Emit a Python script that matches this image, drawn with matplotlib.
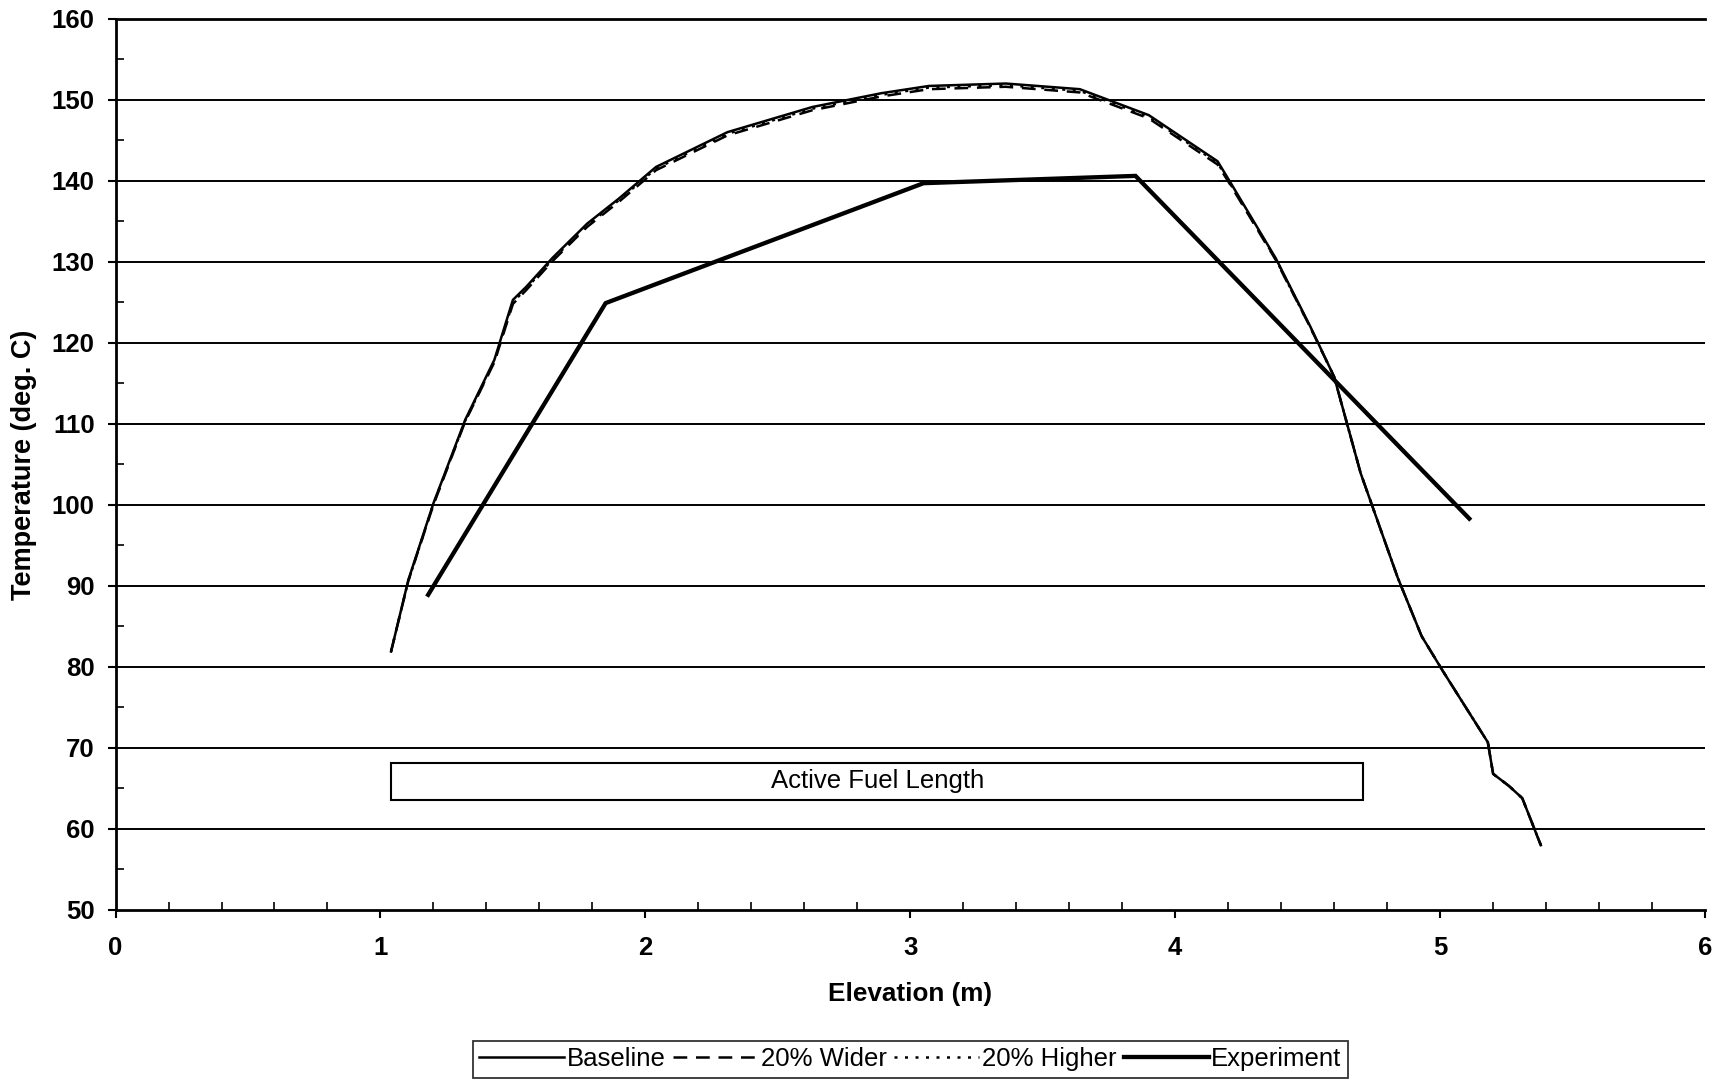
import matplotlib
matplotlib.use("Agg")
import matplotlib.pyplot as plt
from matplotlib.patches import Rectangle
from matplotlib.ticker import MultipleLocator

plt.rcParams['font.family'] = ['Liberation Sans', 'DejaVu Sans']

# ---- data ----
base_x = [1.04, 1.105, 1.20, 1.32, 1.43, 1.50, 1.55, 1.65, 1.78, 1.90, 2.04, 2.31, 2.63, 2.89,
          3.07, 3.36, 3.64, 3.90, 4.16, 4.21, 4.38, 4.51, 4.60, 4.70, 4.84, 4.93, 5.01, 5.18,
          5.20, 5.26, 5.31, 5.38]
base_y = [81.9, 90.7, 100.2, 110.5, 117.9, 125.3, 126.9, 130.5, 134.7, 137.8, 141.7, 146.0, 149.1, 150.8,
          151.7, 152.0, 151.3, 148.1, 142.4, 139.7, 130.4, 122.0, 115.8, 103.9, 91.0, 83.8, 79.5, 70.7,
          66.8, 65.3, 63.8, 58.0]

wider_x = base_x
wider_y = [81.9, 90.6, 100.0, 110.3, 117.6, 124.8, 126.5, 130.1, 134.3, 137.4, 141.3, 145.6, 148.7, 150.4,
           151.3, 151.6, 150.9, 147.7, 142.0, 139.4, 130.2, 121.9, 115.8, 103.9, 91.0, 83.8, 79.5, 70.7,
           66.8, 65.3, 63.8, 58.0]

higher_x = base_x
higher_y = [81.9, 90.6, 100.1, 110.4, 117.7, 125.0, 126.7, 130.3, 134.5, 137.6, 141.5, 145.8, 148.9, 150.6,
            151.5, 151.8, 151.1, 147.9, 142.2, 139.5, 130.3, 121.9, 115.8, 103.9, 91.0, 83.8, 79.5, 70.7,
            66.8, 65.3, 63.8, 58.0]

exp_x = [1.18, 1.85, 3.05, 3.85, 5.11]
exp_y = [88.9, 124.9, 139.7, 140.6, 98.3]

fuel_start, fuel_end = 1.04, 4.71
fuel_low, fuel_high = 63.6, 68.2
fuel_label = "Active Fuel Length"

xticks = [0, 1, 2, 3, 4, 5, 6]
yticks = [50, 60, 70, 80, 90, 100, 110, 120, 130, 140, 150, 160]

# ---- figure ----
fig = plt.figure(figsize=(17.27, 10.81), dpi=100)
ax = fig.add_axes([0.0669, 0.1582, 0.9204, 0.8245])

ax.set_xlim(0, 6)
ax.set_ylim(50, 160)

for y in yticks[1:]:
    ax.axhline(y, color='black', lw=1.4, zorder=1)

ax.plot(base_x, base_y, color='black', lw=1.8, ls='-', label='Baseline', zorder=3)
ax.plot(wider_x, wider_y, color='black', lw=1.8, ls=(0, (5.5, 3.5)), label='20% Wider', zorder=3)
ax.plot(higher_x, higher_y, color='black', lw=1.8, ls=(0, (1.2, 3.0)), label='20% Higher', zorder=3)
ax.plot(exp_x, exp_y, color='black', lw=3.1, ls='-', label='Experiment', zorder=4,
        solid_joinstyle='miter')

rect = Rectangle((fuel_start, fuel_low), fuel_end - fuel_start, fuel_high - fuel_low,
                 facecolor='white', edgecolor='black', lw=1.5, zorder=5)
ax.add_patch(rect)
ax.text((fuel_start + fuel_end) / 2, (fuel_low + fuel_high) / 2, fuel_label,
        ha='center', va='center', fontsize=18.5, zorder=6)

ax.set_xticks(xticks)
ax.set_yticks(yticks)
ax.xaxis.set_minor_locator(MultipleLocator(0.2))
ax.yaxis.set_minor_locator(MultipleLocator(5))
ax.tick_params(axis='both', which='major', direction='out', length=6, width=1.5,
               labelsize=18.5, colors='black')
ax.tick_params(axis='x', which='major', pad=13)
ax.tick_params(axis='y', which='major', pad=9)
ax.tick_params(axis='both', which='minor', direction='in', length=6, width=1.2)
for lab in ax.get_xticklabels() + ax.get_yticklabels():
    lab.set_fontweight('bold')

for s in ['left', 'bottom', 'top']:
    ax.spines[s].set_linewidth(2.0)
ax.spines['right'].set_visible(False)

ax.set_xlabel('Elevation (m)', fontsize=18.8, fontweight='bold')
ax.set_ylabel('Temperature (deg. C)', fontsize=19.5, fontweight='bold')
ax.xaxis.set_label_coords(0.5, -0.0813)
ax.yaxis.set_label_coords(-0.0493, 0.5)

leg = ax.legend(loc='center', bbox_to_anchor=(0.5, (0.0199 - 0.1582) / 0.8245),
                bbox_transform=ax.transAxes, ncol=4, fontsize=18.5, frameon=True,
                fancybox=False, edgecolor='black', handlelength=3.3, handletextpad=0.1,
                columnspacing=0.3, borderpad=0.25, borderaxespad=0)
leg.get_frame().set_linewidth(1.3)

fig.savefig('out.png', dpi=100)
